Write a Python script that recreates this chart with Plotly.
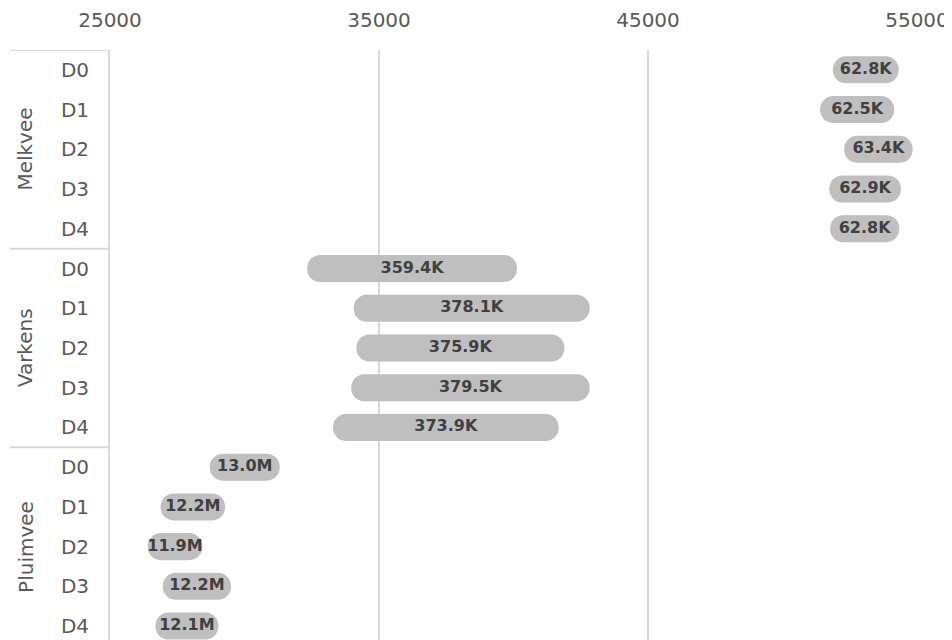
import plotly.graph_objects as go

# ---- data ----
groups = ["Melkvee", "Varkens", "Pluimvee"]
subcats = ["D0", "D1", "D2", "D3", "D4"]
bar_start = [51870, 51400, 52290, 51740, 51770,
             32330, 34060, 34160, 33970, 33290,
             28710, 26880, 26400, 26960, 26690]
bar_end = [54320, 54150, 54840, 54400, 54340,
           40130, 42830, 41890, 42830, 41680,
           31310, 29280, 28430, 29500, 29030]
bar_labels = ["62.8K", "62.5K", "63.4K", "62.9K", "62.8K",
              "359.4K", "378.1K", "375.9K", "379.5K", "373.9K",
              "13.0M", "12.2M", "11.9M", "12.2M", "12.1M"]
x_ticks = [25000, 35000, 45000, 55000]

# ---- derived ----
n_sub = len(subcats)
rows = list(range(len(groups) * n_sub))
tick_text = subcats * len(groups)
widths = [e - s for s, e in zip(bar_start, bar_end)]
mids = [(s + e) / 2 for s, e in zip(bar_start, bar_end)]

FONT = "Verdana, DejaVu Sans, sans-serif"
GRID = "#d9d9d9"
TXT = "#595959"

fig = go.Figure()
fig.add_trace(go.Bar(
    orientation="h", y=rows, x=widths, base=bar_start, width=0.68,
    marker=dict(color="#bfbfbf", cornerradius="50%", line=dict(width=0)),
    hoverinfo="skip", showlegend=False,
))
fig.add_trace(go.Scatter(
    x=mids, y=rows, mode="text", text=bar_labels,
    textfont=dict(family=FONT, size=16, color="#404040", weight="bold"),
    hoverinfo="skip", showlegend=False, cliponaxis=False,
))

left_x = -0.124
shapes = []
for g in range(len(groups)):
    yb = g * n_sub - 0.5
    shapes.append(dict(type="line", xref="paper", yref="y", x0=left_x, x1=0,
                       y0=yb, y1=yb, line=dict(color=GRID, width=2)))
annotations = []
for g, name in enumerate(groups):
    annotations.append(dict(
        text=name, xref="paper", yref="y", x=-0.105, y=g * n_sub + (n_sub - 1) / 2,
        textangle=-90, showarrow=False, xanchor="center", yanchor="middle",
        font=dict(family=FONT, size=20, color=TXT)))

fig.update_layout(
    width=944, height=632,
    margin=dict(l=102, r=35, t=40, b=0),
    paper_bgcolor="white", plot_bgcolor="white",
    shapes=shapes, annotations=annotations,
    xaxis=dict(side="top", range=[25000, 55000], tickvals=x_ticks,
               ticktext=[str(v) for v in x_ticks],
               showgrid=True, gridcolor=GRID, gridwidth=2, zeroline=False,
               showline=False, ticks="", ticklabelstandoff=18,
               tickfont=dict(family=FONT, size=20, color=TXT)),
    yaxis=dict(range=[14.35, -0.5], tickvals=rows, ticktext=tick_text,
               showgrid=False, zeroline=False, showline=True, linecolor=GRID,
               linewidth=2, ticks="", ticklabelstandoff=15,
               tickfont=dict(family=FONT, size=20, color=TXT)),
)

fig.write_html("out.html")
